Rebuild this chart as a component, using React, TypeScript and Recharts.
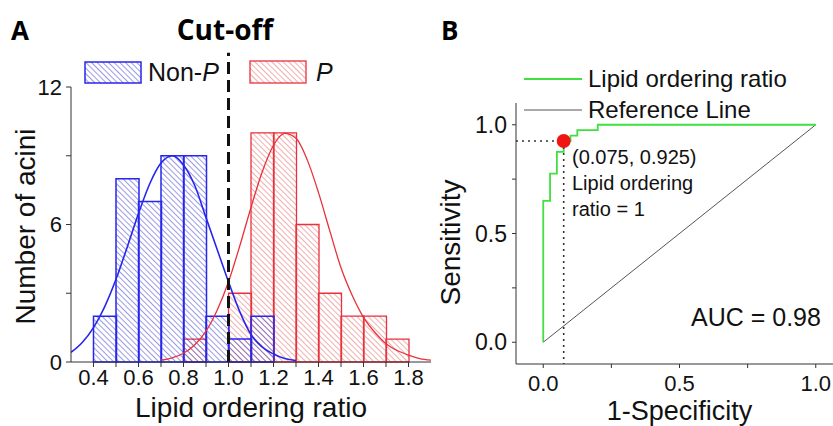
import { ComposedChart, Bar, Line, XAxis, YAxis, ReferenceLine, ReferenceDot, Label } from "recharts";

// histogram, bins 0.1 wide from 0.3 to 1.9 (labelled by bin centre)
const bins = ["0.35", "0.45", "0.55", "0.65", "0.75", "0.85", "0.95", "1.05", "1.15", "1.25", "1.35", "1.45", "1.55", "1.65", "1.75", "1.85"];
const nonPCounts = [0, 2, 8, 7, 9, 9, 2, 1, 2, 0, 0, 0, 0, 0, 0, 0];
const pCounts = [0, 0, 0, 0, 0, 1, 0, 3, 10, 10, 6, 3, 2, 2, 1, 0];

// fitted curves
const nonPFitX = [0.3, 0.35, 0.4, 0.45, 0.5, 0.55, 0.6, 0.65, 0.7, 0.75, 0.8, 0.85, 0.9, 0.95, 1.0, 1.05, 1.1, 1.15, 1.2, 1.25, 1.3];
const nonPFitY = [0.42, 0.85, 1.5, 2.42, 3.61, 5.02, 6.48, 7.78, 8.68, 9.0, 8.6, 7.7, 6.3, 4.9, 3.5, 2.2, 1.2, 0.65, 0.35, 0.15, 0.06];
const pFitX = [0.7, 0.75, 0.8, 0.85, 0.9, 0.95, 1.0, 1.05, 1.1, 1.15, 1.2, 1.25, 1.3, 1.35, 1.4, 1.45, 1.5, 1.55, 1.6, 1.65, 1.7, 1.75, 1.8, 1.85, 1.9];
const pFitY = [0.08, 0.18, 0.38, 0.75, 1.35, 2.27, 3.5, 5.06, 6.74, 8.3, 9.46, 9.98, 9.76, 8.82, 7.39, 5.73, 4.11, 2.9, 1.95, 1.3, 0.8, 0.5, 0.3, 0.15, 0.08];

const xTicksA = [0.4, 0.5, 0.6, 0.7, 0.8, 0.9, 1.0, 1.1, 1.2, 1.3, 1.4, 1.5, 1.6, 1.7, 1.8];
const yTicksA = [0, 3, 6, 9, 12];
const cutOff = 1.0;

// ROC curve
const rocFpr = [0, 0, 0.025, 0.025, 0.05, 0.05, 0.075, 0.075, 0.1, 0.1, 0.125, 0.125, 0.2, 0.2, 1];
const rocTpr = [0, 0.65, 0.65, 0.775, 0.775, 0.875, 0.875, 0.925, 0.925, 0.95, 0.95, 0.975, 0.975, 1, 1];
const refX = [0, 1];
const refY = [0, 1];
const cutFpr = 0.075;
const cutTpr = 0.925;
const rocTicks = [0, 0.25, 0.5, 0.75, 1];

const histRows = bins.map((bin, i) => ({
  bin,
  nonP: nonPCounts[i] || null,
  p: pCounts[i] || null,
}));
const toPoints = (xs: number[], ys: number[]) => xs.map((x, i) => ({ x, y: ys[i] }));
const nonPFit = toPoints(nonPFitX, nonPFitY);
const pFit = toPoints(pFitX, pFitY);
const roc = toPoints(rocFpr, rocTpr);
const diag = toPoints(refX, refY);

const FONT = '"Liberation Sans", Arial, sans-serif';
const BLUE = "#2626ee";
const RED = "#e8313a";
const GREEN = "#3fe03f";
const AXIS = "#333";

function Hatch({ id, color }: { id: string; color: string }) {
  return (
    <pattern id={id} patternUnits="userSpaceOnUse" width={4} height={4} patternTransform="rotate(-45)">
      <line x1={0} y1={0} x2={0} y2={4} stroke={color} strokeWidth={1.3} strokeOpacity={0.75} />
    </pattern>
  );
}

const yTitle = (text: string, dx: number, dy: number) => (props: any) => {
  const vb = props.viewBox;
  const cx = vb.x + dx;
  const cy = vb.y + vb.height / 2 + dy;
  return (
    <text x={cx} y={cy} transform={`rotate(-90 ${cx} ${cy})`} textAnchor="middle" dominantBaseline="central" fontSize={28} fill="#111">
      {text}
    </text>
  );
};

export default function App() {
  return (
    <div style={{ position: "fixed", left: 0, top: 0, width: 833, height: 426, overflow: "hidden", background: "#fff", fontFamily: FONT }}>
      {/* Panel A: histogram */}
      <div style={{ position: "absolute", left: 0, top: 0 }}>
        <ComposedChart width={440} height={426} data={histRows} margin={{ top: 87, right: 9, bottom: 0, left: 0 }} barCategoryGap={0} barGap={0}>
          <defs>
            <Hatch id="hatchBlue" color="#3030c8" />
            <Hatch id="hatchRed" color="#e05a5a" />
          </defs>
          <XAxis
            xAxisId="num"
            dataKey="x"
            type="number"
            domain={[0.3, 1.9]}
            allowDataOverflow
            ticks={xTicksA}
            interval={0}
            tickFormatter={(v: number) => (Math.round(v * 10) % 2 === 0 ? v.toFixed(1) : "")}
            height={64}
            tickSize={5}
            tickMargin={2}
            tick={{ fontSize: 22, fill: "#111" }}
            axisLine={{ stroke: AXIS }}
            tickLine={{ stroke: AXIS }}
          >
            <Label value="Lipid ordering ratio" position="insideBottom" offset={9} fontSize={28} fill="#111" />
          </XAxis>
          <XAxis xAxisId="b1" dataKey="bin" type="category" height={0} hide />
          <XAxis xAxisId="b2" dataKey="bin" type="category" height={0} hide />
          <YAxis
            type="number"
            domain={[0, 12]}
            ticks={yTicksA}
            interval={0}
            tickFormatter={(v: number) => (v % 6 === 0 ? String(v) : "")}
            width={71}
            tickSize={5}
            tickMargin={4}
            tick={{ fontSize: 22, fill: "#111" }}
            axisLine={{ stroke: AXIS }}
            tickLine={{ stroke: AXIS }}
          >
            <Label content={yTitle("Number of acini", 25, 2)} />
          </YAxis>
          <Bar xAxisId="b2" dataKey="p" fill="url(#hatchRed)" stroke={RED} strokeWidth={1.3} isAnimationActive={false} />
          <Bar xAxisId="b1" dataKey="nonP" fill="url(#hatchBlue)" stroke={BLUE} strokeWidth={1.5} isAnimationActive={false} />
          <Line xAxisId="num" data={nonPFit} dataKey="y" type="monotone" stroke={BLUE} strokeWidth={1.6} dot={false} isAnimationActive={false} />
          <Line xAxisId="num" data={pFit} dataKey="y" type="monotone" stroke={RED} strokeWidth={1.3} dot={false} isAnimationActive={false} />
          <ReferenceLine
            xAxisId="num"
            segment={[{ x: cutOff, y: 0 }, { x: cutOff, y: 13.5 }]}
            ifOverflow="visible"
            stroke="#111"
            strokeWidth={3}
            strokeDasharray="12 6"
          />
        </ComposedChart>
      </div>

      {/* Panel B: ROC */}
      <div style={{ position: "absolute", left: 420, top: 0 }}>
        <ComposedChart width={440} height={426} margin={{ top: 103, right: 17, bottom: 0, left: 20 }}>
          <XAxis
            dataKey="x"
            type="number"
            domain={[-0.1, 1.1]}
            allowDataOverflow
            ticks={rocTicks}
            interval={0}
            tickFormatter={(v: number) => (v * 2 === Math.round(v * 2) ? v.toFixed(1) : "")}
            height={62}
            tickSize={4}
            tickMargin={7}
            tick={{ fontSize: 22, fill: "#111" }}
            axisLine={{ stroke: AXIS }}
            tickLine={{ stroke: AXIS }}
          >
            <Label value="1-Specificity" position="insideBottom" offset={6} fontSize={27} fill="#111" />
          </XAxis>
          <YAxis
            type="number"
            domain={[-0.1, 1.1]}
            allowDataOverflow
            ticks={rocTicks}
            interval={0}
            tickFormatter={(v: number) => (v * 2 === Math.round(v * 2) ? v.toFixed(1) : "")}
            width={76}
            tickSize={4}
            tickMargin={5}
            tick={{ fontSize: 23, fill: "#111" }}
            axisLine={{ stroke: AXIS }}
            tickLine={{ stroke: AXIS }}
          >
            <Label content={yTitle("Sensitivity", 10, 9)} />
          </YAxis>
          <Line data={diag} dataKey="y" type="linear" stroke="#555" strokeWidth={1} dot={false} isAnimationActive={false} />
          <Line data={roc} dataKey="y" type="linear" stroke={GREEN} strokeWidth={1.8} dot={false} isAnimationActive={false} />
          <ReferenceLine segment={[{ x: -0.1, y: cutTpr }, { x: cutFpr, y: cutTpr }]} stroke="#333" strokeWidth={1.6} strokeDasharray="2 4" />
          <ReferenceLine segment={[{ x: cutFpr, y: cutTpr }, { x: cutFpr, y: -0.1 }]} stroke="#333" strokeWidth={1.6} strokeDasharray="2 4" />
          <ReferenceDot x={cutFpr} y={cutTpr} r={7} fill="#f01414" stroke="none" />
        </ComposedChart>
      </div>

      {/* panel letters, legends and annotations */}
      <svg width={833} height={426} style={{ position: "absolute", left: 0, top: 0, pointerEvents: "none" }}>
        <defs>
          <Hatch id="legBlue" color="#3030c8" />
          <Hatch id="legRed" color="#e05a5a" />
        </defs>
        <g fontFamily='"Open Sans", sans-serif' fontWeight={700} fill="#000">
          <text x={11} y={40} fontSize={26}>A</text>
          <text x={225} y={40} fontSize={28} textAnchor="middle">Cut-off</text>
          <text x={441} y={40} fontSize={26}>B</text>
        </g>
        <rect x={85} y={62} width={56} height={21} fill="url(#legBlue)" stroke={BLUE} strokeWidth={1.5} />
        <text x={148} y={81} fontSize={25} fill="#111">
          Non-<tspan fontStyle="italic">P</tspan>
        </text>
        <rect x={250} y={61} width={56} height={22} fill="url(#legRed)" stroke={RED} strokeWidth={1.3} />
        <text x={316} y={81} fontSize={25} fontStyle="italic" fill="#111">P</text>

        <line x1={524} y1={79} x2={582} y2={79} stroke={GREEN} strokeWidth={2} />
        <text x={588} y={87} fontSize={24} fill="#111">Lipid ordering ratio</text>
        <line x1={524} y1={110} x2={582} y2={110} stroke="#555" strokeWidth={1} />
        <text x={588} y={118} fontSize={24} fill="#111">Reference Line</text>

        <g fontSize={20} fill="#111">
          <text x={572} y={164}>(0.075, 0.925)</text>
          <text x={572} y={190}>Lipid ordering</text>
          <text x={572} y={216}>ratio = 1</text>
        </g>
        <text x={691} y={326} fontSize={25} fill="#111">AUC = 0.98</text>
      </svg>
    </div>
  );
}
